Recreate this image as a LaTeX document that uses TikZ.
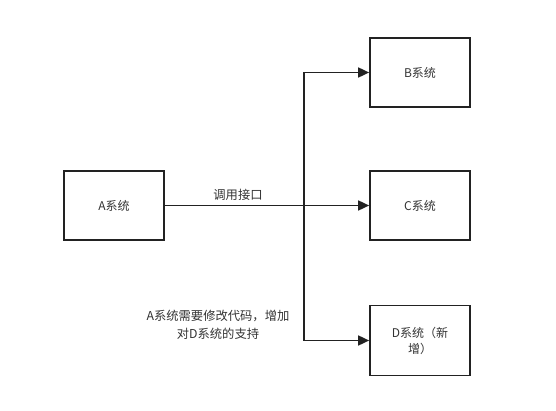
\documentclass[tikz,border=0pt]{standalone}
\usepackage{fontspec}
\setmainfont{Noto Sans CJK SC}
\usetikzlibrary{arrows.meta}
\definecolor{linec}{HTML}{222222}
\definecolor{textc}{HTML}{333333}
\begin{document}
\begin{tikzpicture}[x=1pt,y=-1pt,
  sysbox/.style={draw=linec,line width=1.7pt,minimum width=100pt,minimum height=69pt,inner sep=0pt,font=\fontsize{12}{16}\selectfont,text=textc,align=center},
  conn/.style={draw=linec,line width=1.7pt},
  arr/.style={conn,-{Triangle[length=11pt,width=10pt]}},
  lbl/.style={font=\fontsize{12.3}{17.5}\selectfont,text=textc,align=center,inner sep=0pt}]
\useasboundingbox (0,0) rectangle (556,411);
\fill[white] (0,0) rectangle (556,411);
\node[sysbox] (A) at (114,205.5) {A系统};
\node[sysbox] (B) at (420,72.5) {B系统};
\node[sysbox] (C) at (420,205.5) {C系统};
\node[sysbox,minimum height=70pt] (D) at (420,340.5) {D系统（新\\增）};
\coordinate (j) at (304,205.5);
\draw[arr] (A.east) -- (C.west);
\draw[arr] (j) |- (B.west);
\draw[arr] (j) |- (D.west);
\node[lbl] (l1) at (238,195) {调用接口};
\node[lbl] (l2) at (218,325) {A系统需要修改代码，增加\\对D系统的支持};
\end{tikzpicture}
\end{document}
